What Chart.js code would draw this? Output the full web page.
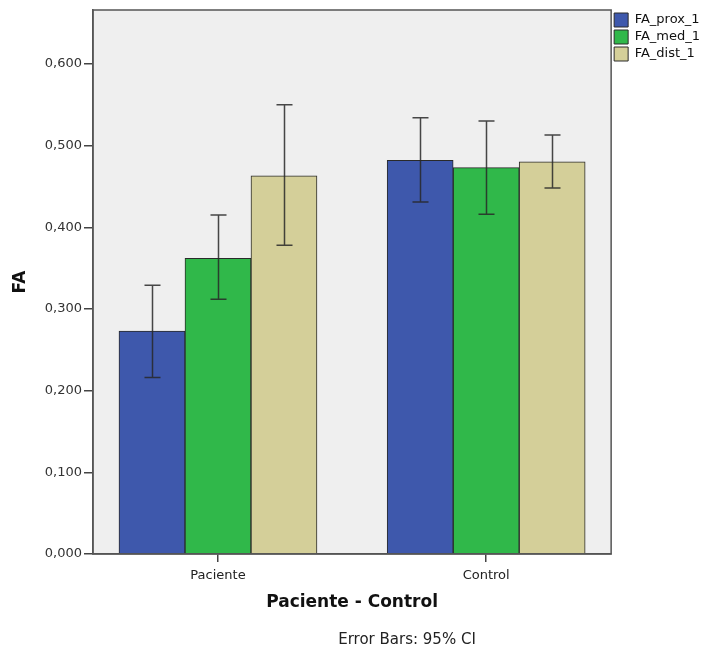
<!DOCTYPE html>
<html>
<head>
<meta charset="utf-8">
<script src="https://cdn.jsdelivr.net/npm/chart.js@4.4.1/dist/chart.umd.min.js"></script>
<style>
  html, body { margin: 0; padding: 0; background: #fff; }
  #wrap { width: 702px; height: 649px; }
</style>
</head>
<body>
<div id="wrap"><canvas id="fa-graph"></canvas></div>
<script>
// groups on the x axis
var categories = ['Paciente', 'Control'];
var seriesNames = ['FA_prox_1', 'FA_med_1', 'FA_dist_1'];

// mean FA per group
var faProx = [0.273, 0.482];
var faMed = [0.362, 0.473];
var faDist = [0.463, 0.480];

// 95% CI bounds
var faProxLow = [0.216, 0.431];
var faProxHigh = [0.329, 0.534];
var faMedLow = [0.312, 0.416];
var faMedHigh = [0.415, 0.530];
var faDistLow = [0.378, 0.448];
var faDistHigh = [0.550, 0.513];

var yTicks = [0, 0.1, 0.2, 0.3, 0.4, 0.5, 0.6];

var colors = ['#3e58ac', '#30b84a', '#d4cf99'];

function toPoints(values) {
    return values.map(function(v, i) { return {x: i, y: v}; });
}

var allValues = [faProx, faMed, faDist];
var lows = [faProxLow, faMedLow, faDistLow];
var highs = [faProxHigh, faMedHigh, faDistHigh];

var datasets = seriesNames.map(function(name, i) {
    return {
        label: name,
        data: toPoints(allValues[i]),
        backgroundColor: colors[i],
        borderColor: '#2a2a2a',
        borderWidth: 1,
        barThickness: 66,
        low: lows[i],
        high: highs[i]
    };
});

// grey plot area + frame
var plotFrame = {
    id: 'plotFrame',
    beforeDraw: function(chart) {
        var a = chart.chartArea, c = chart.ctx;
        c.save();
        c.fillStyle = '#efefef';
        c.fillRect(a.left, a.top, a.right - a.left, a.bottom - a.top);
        c.restore();
    },
    afterDraw: function(chart) {
        var a = chart.chartArea, c = chart.ctx;
        c.save();
        c.strokeStyle = '#555';
        c.lineWidth = 1.5;
        c.strokeRect(a.left, a.top, a.right - a.left, a.bottom - a.top);
        c.fillStyle = '#222';
        c.font = '15px "DejaVu Sans"';
        c.textAlign = 'center';
        c.textBaseline = 'middle';
        c.fillText('Error Bars: 95% CI', 407, 640);
        c.restore();
    }
};

// error bars drawn through the y scale
var errorBars = {
    id: 'errorBars',
    afterDatasetsDraw: function(chart) {
        var c = chart.ctx, yScale = chart.scales.y;
        c.save();
        c.strokeStyle = 'rgba(40,40,40,0.85)';
        c.lineWidth = 1.5;
        chart.data.datasets.forEach(function(ds, i) {
            var meta = chart.getDatasetMeta(i);
            meta.data.forEach(function(bar, j) {
                var yHi = yScale.getPixelForValue(ds.high[j]);
                var yLo = yScale.getPixelForValue(ds.low[j]);
                var x = Math.round(bar.x) + 0.5;
                c.beginPath();
                c.moveTo(x, yHi); c.lineTo(x, yLo);
                c.moveTo(x - 8, yHi); c.lineTo(x + 8, yHi);
                c.moveTo(x - 8, yLo); c.lineTo(x + 8, yLo);
                c.stroke();
            });
        });
        c.restore();
    }
};

var ctx = document.getElementById('fa-graph');

new Chart(ctx, {
    type: 'bar',
    data: { datasets: datasets },
    options: {
        responsive: true,
        maintainAspectRatio: false,
        animation: false,
        layout: { padding: { top: 10, bottom: 36, left: 0, right: -8 } },
        plugins: {
            legend: {
                position: 'right',
                align: 'start',
                labels: {
                    boxWidth: 14,
                    boxHeight: 14,
                    padding: 3,
                    color: '#111',
                    font: { family: 'DejaVu Sans', size: 13 }
                }
            },
            tooltip: { enabled: false }
        },
        scales: {
            x: {
                type: 'linear',
                offset: false,
                min: -0.466,
                max: 1.466,
                afterBuildTicks: function(scale) {
                    scale.ticks = categories.map(function(c, i) { return {value: i}; });
                },
                ticks: {
                    padding: 6,
                    color: '#222',
                    font: { family: 'DejaVu Sans', size: 13 },
                    callback: function(v) { return categories[v]; }
                },
                grid: { offset: false, drawOnChartArea: false, tickLength: 8, color: '#444', lineWidth: 1.5 },
                border: { color: '#555', width: 1.5 },
                title: {
                    display: true,
                    text: 'Paciente - Control',
                    color: '#111',
                    font: { family: 'DejaVu Sans', size: 17, weight: 'bold' },
                    padding: { top: 3, bottom: 0 }
                }
            },
            y: {
                min: 0,
                max: 0.666,
                afterBuildTicks: function(scale) {
                    scale.ticks = yTicks.map(function(v) { return {value: v}; });
                },
                afterFit: function(scale) { scale.width = 93; },
                ticks: {
                    padding: 2,
                    color: '#333',
                    font: { family: 'DejaVu Sans', size: 13 },
                    callback: function(v) { return v.toFixed(3).replace('.', ','); }
                },
                grid: { drawOnChartArea: false, tickLength: 9, color: '#444', lineWidth: 1.5 },
                border: { color: '#555', width: 1.5 },
                title: {
                    display: true,
                    text: 'FA',
                    color: '#111',
                    font: { family: 'DejaVu Sans', size: 17, weight: 'bold' },
                    padding: { top: 10, bottom: 0 }
                }
            }
        }
    },
    plugins: [plotFrame, errorBars]
});
</script>
</body>
</html>
